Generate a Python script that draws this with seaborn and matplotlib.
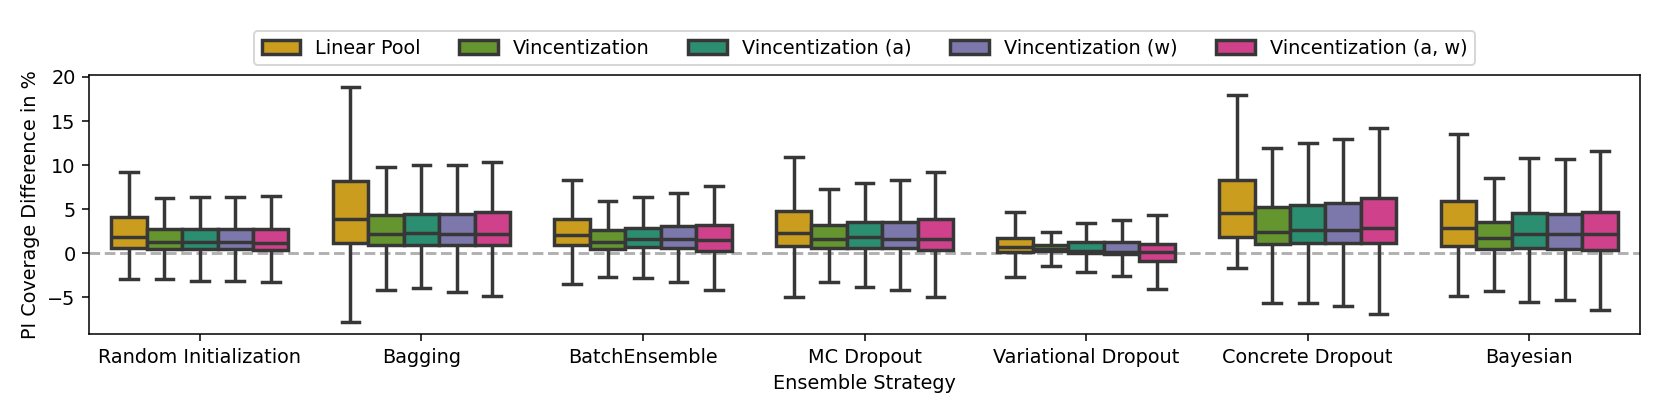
import matplotlib
matplotlib.use("Agg")
import matplotlib.pyplot as plt
import seaborn as sns
import pandas as pd

strategies = ['Random Initialization', 'Bagging', 'BatchEnsemble', 'MC Dropout',
              'Variational Dropout', 'Concrete Dropout', 'Bayesian']
methods = ['Linear Pool', 'Vincentization', 'Vincentization (a)',
           'Vincentization (w)', 'Vincentization (a, w)']

# five-number summaries per method: [min, q1, median, q3, max], one entry per strategy
linear_pool = [
    [-2.94, 0.57, 1.89, 4.11, 9.17],
    [-7.81, 1.21, 3.85, 8.23, 18.87],
    [-3.47, 0.91, 2.08, 3.89, 8.34],
    [-4.94, 0.87, 2.30, 4.83, 10.94],
    [-2.72, 0.19, 0.75, 1.77, 4.64],
    [-1.62, 1.89, 4.60, 8.30, 17.92],
    [-4.87, 0.83, 2.91, 5.89, 13.55],
]
vinc = [
    [-2.94, 0.49, 1.28, 2.72, 6.23],
    [-4.15, 0.91, 2.23, 4.34, 9.81],
    [-2.72, 0.53, 1.28, 2.60, 5.89],
    [-3.25, 0.57, 1.58, 3.21, 7.32],
    [-1.47, 0.26, 0.53, 0.91, 2.42],
    [-5.66, 1.02, 2.45, 5.28, 11.89],
    [-4.30, 0.53, 1.70, 3.58, 8.49],
]
vinc_a = [
    [-3.09, 0.49, 1.28, 2.79, 6.34],
    [-3.96, 0.98, 2.30, 4.49, 10.04],
    [-2.83, 0.68, 1.58, 2.91, 6.42],
    [-3.77, 0.64, 1.81, 3.51, 8.00],
    [-2.15, 0.04, 0.26, 1.28, 3.43],
    [-5.66, 1.17, 2.60, 5.51, 12.45],
    [-5.55, 0.60, 2.23, 4.57, 10.75],
]
vinc_w = [
    [-3.09, 0.49, 1.28, 2.79, 6.34],
    [-4.38, 0.98, 2.23, 4.49, 10.04],
    [-3.25, 0.60, 1.58, 3.06, 6.87],
    [-4.11, 0.60, 1.66, 3.51, 8.26],
    [-2.57, -0.08, 0.19, 1.32, 3.81],
    [-6.00, 1.17, 2.60, 5.74, 12.91],
    [-5.28, 0.53, 2.19, 4.42, 10.64],
]
vinc_aw = [
    [-3.28, 0.38, 1.17, 2.79, 6.45],
    [-4.87, 0.91, 2.23, 4.64, 10.34],
    [-4.19, 0.26, 1.51, 3.17, 7.58],
    [-4.94, 0.38, 1.62, 3.85, 9.17],
    [-4.08, -0.87, 0.11, 1.09, 4.30],
    [-6.91, 1.13, 2.83, 6.23, 14.19],
    [-6.45, 0.42, 2.23, 4.72, 11.62],
]

rows = []
for method, summaries in zip(methods, [linear_pool, vinc, vinc_a, vinc_w, vinc_aw]):
    for strategy, vals in zip(strategies, summaries):
        for v in vals:
            rows.append({'Ensemble Strategy': strategy, 'Method': method, 'diff': v})
df = pd.DataFrame(rows)

dark2 = sns.color_palette('Dark2')
palette = [dark2[5], dark2[4], dark2[0], dark2[2], dark2[3]]

fig, ax = plt.subplots(figsize=(12, 3))
ax.axhline(0, color='#b0b0b0', linestyle='--', linewidth=1.5, zorder=0)
sns.boxplot(data=df, x='Ensemble Strategy', y='diff', hue='Method',
            order=strategies, hue_order=methods, palette=palette,
            whis=(0, 100), showfliers=False, linewidth=1.8, ax=ax)
ax.set_ylabel('PI Coverage Difference in %')
ax.set_xlabel('Ensemble Strategy')
ax.legend(loc='lower center', bbox_to_anchor=(0.5, 1.0), ncol=5, title=None)
fig.subplots_adjust(left=0.0536, right=0.9874, top=0.819, bottom=0.195)
fig.savefig('out.png', dpi=1661 / 12)
